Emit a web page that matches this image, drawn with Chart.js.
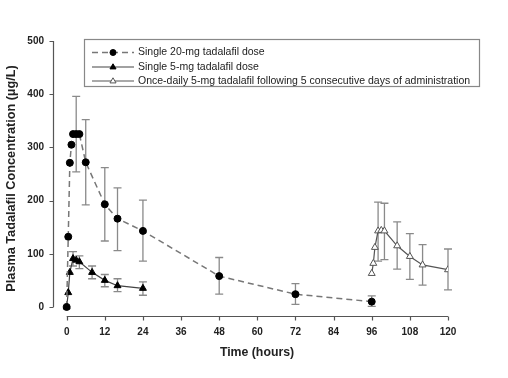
<!DOCTYPE html>
<html>
<head>
<meta charset="utf-8">
<script src="https://cdn.jsdelivr.net/npm/chart.js@4/dist/chart.umd.min.js"></script>
<style>
html,body{margin:0;padding:0;background:#fff;}
#wrap{width:508px;height:378px;}
</style>
</head>
<body>
<div id="wrap"><canvas id="c" width="508" height="378"></canvas></div>
<script>
// ---- data ----
const xTicks = [0, 12, 24, 36, 48, 60, 72, 84, 96, 108, 120];
const yTicks = [0, 100, 200, 300, 400, 500];

const seriesNames = [
  "Single 20-mg tadalafil dose",
  "Single 5-mg tadalafil dose",
  "Once-daily 5-mg tadalafil following 5 consecutive days of administration"
];

const t20 = [0, 0.5, 1, 1.5, 2, 3, 4, 6, 12, 16, 24, 48, 72, 96];
const v20 = [0, 132, 271, 305, 325, 325, 325, 272, 193, 166, 143, 58, 24, 10];
const hi20 = [null, null, null, null, null, 396, null, 352, 262, 224, 201, 93, 44, 21];
const lo20 = [null, null, null, null, null, 254, null, 192, 124, 106, 86, 24, 5, 1];

const t5 = [0, 0.5, 1, 2, 3, 4, 8, 12, 16, 24];
const v5 = [0, 27, 65, 91, 88, 85, 65, 50, 40, 35];
const hi5 = [null, null, null, 104, null, 96, 77, 61, 53, 47];
const lo5 = [null, null, null, 77, null, 72, 53, 38, 29, 22];

const tQD = [96, 96.5, 97, 98, 99, 100, 104, 108, 112, 120];
const vQD = [63, 82, 112, 143, 144, 143, 115, 95, 79, 70];
const hiQD = [null, null, null, 197, null, 195, 160, 138, 117, 109];
const loQD = [null, null, null, 86, null, 89, 71, 52, 41, 32];

const xTitle = 'Time (hours)';
const yTitle = 'Plasma Tadalafil Concentration (µg/L)';

const pts = (t, v) => t.map((x, i) => ({x: x, y: v[i]}));

const errors = [
  {hi: hi20, lo: lo20},
  {hi: hi5, lo: lo5},
  {hi: hiQD, lo: loQD}
];

const FONT = "'Liberation Sans', Arial, sans-serif";

// ---- plugins ----
const errorBars = {
  id: 'errorBars',
  beforeDatasetsDraw(chart) {
    const ctx = chart.ctx, xs = chart.scales.x, ys = chart.scales.y;
    ctx.save();
    ctx.strokeStyle = '#8a8a8a';
    ctx.lineWidth = 1.3;
    chart.data.datasets.forEach((ds, di) => {
      const e = errors[di];
      ds.data.forEach((p, i) => {
        if (e.hi[i] == null) return;
        const x = xs.getPixelForValue(p.x);
        const yh = ys.getPixelForValue(e.hi[i]);
        const yl = ys.getPixelForValue(e.lo[i]);
        ctx.beginPath();
        ctx.moveTo(x, yh); ctx.lineTo(x, yl);
        ctx.moveTo(x - 4, yh); ctx.lineTo(x + 4, yh);
        ctx.moveTo(x - 4, yl); ctx.lineTo(x + 4, yl);
        ctx.stroke();
      });
    });
    ctx.restore();
  }
};

const axesLines = {
  id: 'axesLines',
  afterDraw(chart) {
    const ctx = chart.ctx, xs = chart.scales.x, ys = chart.scales.y;
    const a = chart.chartArea;
    ctx.save();
    ctx.strokeStyle = '#555';
    ctx.lineWidth = 1.2;
    const yx = Math.round(a.left) + 0.5;
    ctx.beginPath();
    ctx.moveTo(yx, ys.getPixelForValue(0));
    ctx.lineTo(yx, ys.getPixelForValue(500));
    yTicks.forEach(v => {
      const y = Math.round(ys.getPixelForValue(v)) + 0.5;
      ctx.moveTo(yx - 4, y); ctx.lineTo(yx, y);
    });
    const xy = Math.round(a.bottom) + 0.5;
    ctx.moveTo(xs.getPixelForValue(0), xy);
    ctx.lineTo(xs.getPixelForValue(120), xy);
    xTicks.forEach(v => {
      const x = Math.round(xs.getPixelForValue(v)) + 0.5;
      ctx.moveTo(x, xy); ctx.lineTo(x, xy + 4);
    });
    ctx.stroke();
    // x axis title
    ctx.fillStyle = '#222';
    ctx.font = 'bold 12.3px ' + FONT;
    ctx.textAlign = 'center';
    ctx.textBaseline = 'middle';
    ctx.fillText(xTitle, 257, 353);
    ctx.restore();
  }
};

const legendBox = {
  id: 'legendBox',
  afterDraw(chart) {
    const ctx = chart.ctx;
    ctx.save();
    ctx.fillStyle = '#fff';
    ctx.fillRect(84, 39, 395, 47);
    ctx.strokeStyle = '#888';
    ctx.lineWidth = 1.2;
    ctx.strokeRect(84.5, 39.5, 395, 47);
    const rows = [52.5, 67, 81];
    chart.data.datasets.forEach((ds, i) => {
      const y = rows[i];
      ctx.strokeStyle = ds.borderColor;
      ctx.lineWidth = ds.borderWidth;
      ctx.setLineDash(ds.borderDash || []);
      ctx.beginPath();
      ctx.moveTo(92, y); ctx.lineTo(134, y);
      ctx.stroke();
      ctx.setLineDash([]);
      ctx.fillStyle = ds.pointBackgroundColor;
      ctx.strokeStyle = ds.pointBorderColor;
      ctx.lineWidth = 1;
      ctx.beginPath();
      if (ds.pointStyle === 'circle') {
        ctx.arc(113, y, 3, 0, Math.PI * 2);
      } else {
        const r = 3.2;
        ctx.moveTo(113, y - r);
        ctx.lineTo(113 + r * 0.95, y + r * 0.6);
        ctx.lineTo(113 - r * 0.95, y + r * 0.6);
        ctx.closePath();
      }
      ctx.fill(); ctx.stroke();
      ctx.fillStyle = '#222';
      ctx.font = '10.5px ' + FONT;
      ctx.textBaseline = 'middle';
      ctx.textAlign = 'left';
      ctx.fillText(seriesNames[i], 138, y);
    });
    ctx.restore();
  }
};

new Chart(document.getElementById('c'), {
  type: 'line',
  data: {
    datasets: [
      {
        label: seriesNames[0],
        data: pts(t20, v20),
        borderColor: '#777',
        borderWidth: 1.5,
        borderDash: [6, 4],
        pointStyle: 'circle',
        pointRadius: 3.5,
        pointBackgroundColor: '#000',
        pointBorderColor: '#000',
        pointBorderWidth: 1,
        tension: 0
      },
      {
        label: seriesNames[1],
        data: pts(t5, v5),
        borderColor: '#444',
        borderWidth: 1.2,
        pointStyle: 'triangle',
        pointRadius: 4,
        pointBackgroundColor: '#000',
        pointBorderColor: '#000',
        pointBorderWidth: 1,
        tension: 0
      },
      {
        label: seriesNames[2],
        data: pts(tQD, vQD),
        borderColor: '#555',
        borderWidth: 1.2,
        pointStyle: 'triangle',
        pointRadius: 4,
        pointBackgroundColor: '#fff',
        pointBorderColor: '#555',
        pointBorderWidth: 1,
        tension: 0
      }
    ]
  },
  options: {
    responsive: false,
    animation: false,
    layout: {padding: {top: 41, right: 60, bottom: 0, left: 0}},
    plugins: {legend: {display: false}, tooltip: {enabled: false}},
    scales: {
      x: {
        type: 'linear',
        min: -4.3, max: 120,
        afterBuildTicks: s => { s.ticks = xTicks.map(v => ({value: v})); },
        afterFit: s => { s.height = 62; },
        grid: {display: false, drawTicks: false},
        border: {display: false},
        ticks: {
          padding: 10,
          color: '#222',
          font: {family: FONT, size: 10, weight: 'bold'},
          maxRotation: 0, autoSkip: false
        },
        title: {display: false}
      },
      y: {
        type: 'linear',
        min: -17, max: 500,
        afterBuildTicks: s => { s.ticks = yTicks.map(v => ({value: v})); },
        afterFit: s => { s.width = 53; },
        grid: {display: false, drawTicks: false},
        border: {display: false},
        ticks: {
          padding: 9,
          color: '#222',
          font: {family: FONT, size: 10, weight: 'bold'}
        },
        title: {
          display: true,
          text: yTitle,
          color: '#222',
          font: {family: FONT, size: 12.7, weight: 'bold'},
          padding: {top: 4, bottom: 4}
        }
      }
    }
  },
  plugins: [errorBars, axesLines, legendBox]
});
</script>
</body>
</html>
